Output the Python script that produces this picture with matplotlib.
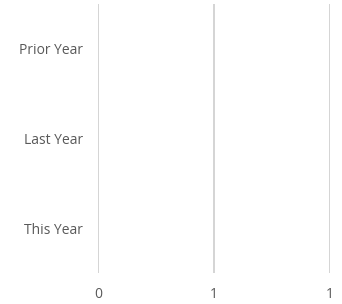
import matplotlib
matplotlib.use("Agg")
import math
import matplotlib.pyplot as plt
from matplotlib.ticker import FuncFormatter

# Data (chart shows no visible bars)
categories = ["This Year", "Last Year", "Prior Year"]
values = [0, 0, 0]
x_ticks = [0, 0.5, 1]

plt.rcParams["font.family"] = ["Open Sans", "DejaVu Sans"]

fig = plt.figure(figsize=(3.42, 3.04), dpi=100)
ax = fig.add_axes([0.288, 0.102, 0.677, 0.885])

ax.barh(categories, values, height=0.6, color="#4472c4")

ax.set_xlim(0, 1)
ax.set_ylim(-0.5, len(categories) - 0.5)
ax.set_xticks(x_ticks)
# labels rounded half-up to whole numbers, as in the source chart
ax.xaxis.set_major_formatter(FuncFormatter(lambda v, p: f"{math.floor(v + 0.5)}"))

ax.grid(axis="x", color="#d4d4d4", linewidth=1.4)
ax.set_axisbelow(True)
for s in ax.spines.values():
    s.set_visible(False)

ax.tick_params(axis="x", length=0, pad=10, labelsize=10, labelcolor="#595959")
ax.tick_params(axis="y", length=0, pad=11, labelsize=10, labelcolor="#595959")

fig.savefig("out.png", dpi=100)
